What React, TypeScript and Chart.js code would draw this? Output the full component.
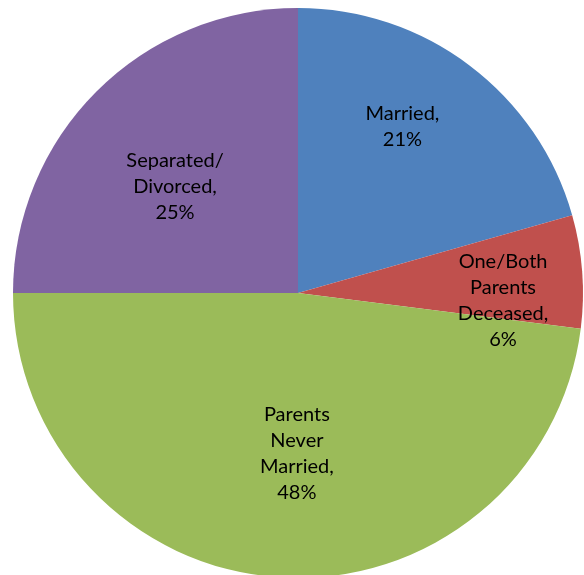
import React, { useEffect, useRef } from "react";
import { Chart, registerables } from "chart.js";

Chart.register(...registerables);

const categories: string[][] = [
  ["Married,"],
  ["One/Both", "Parents", "Deceased,"],
  ["Parents", "Never", "Married,"],
  ["Separated/", "Divorced,"],
];
const values: number[] = [20.6, 6.4, 48, 25];
const colors: string[] = ["#4F81BD", "#C0504D", "#9BBB59", "#8064A2"];

// label placement: fraction of radius, clockwise angle offset in degrees
const labelRadius = [0.69, 0.72, 0.565, 0.57];
const labelAngleOffset = [-5.0, 6.4, -3.2, -4.2];

const labelPlugin = {
  id: "pieLabels",
  afterDatasetsDraw(chart: any) {
    const ctx = chart.ctx;
    const meta = chart.getDatasetMeta(0);
    const total = values.reduce((a, b) => a + b, 0);
    ctx.save();
    ctx.font = "20px Lato";
    ctx.fillStyle = "#000000";
    ctx.textAlign = "center";
    ctx.textBaseline = "middle";
    const lineH = 26;
    meta.data.forEach((arc: any, i: number) => {
      const { x, y, startAngle, endAngle, outerRadius } = arc.getProps(
        ["x", "y", "startAngle", "endAngle", "outerRadius"],
        true
      );
      const mid = (startAngle + endAngle) / 2 + (labelAngleOffset[i] * Math.PI) / 180;
      const r = outerRadius * labelRadius[i];
      const cx = x + r * Math.cos(mid);
      const cy = y + r * Math.sin(mid);
      const pct = Math.round((values[i] / total) * 100) + "%";
      const lines = [...categories[i], pct];
      const top = cy - ((lines.length - 1) * lineH) / 2;
      lines.forEach((t, k) => ctx.fillText(t, cx, top + k * lineH));
    });
    ctx.restore();
  },
};

export default function App() {
  const ref = useRef<HTMLCanvasElement | null>(null);
  useEffect(() => {
    if (!ref.current) return;
    const chart = new Chart(ref.current, {
      type: "pie",
      data: {
        labels: categories.map((c) => c.join(" ")),
        datasets: [
          {
            data: values,
            backgroundColor: colors,
            borderWidth: 0,
            hoverOffset: 0,
          },
        ],
      },
      options: {
        responsive: false,
        animation: false,
        layout: { padding: { left: 13, top: 8, right: 17, bottom: 22 } },
        plugins: {
          legend: { display: false },
          tooltip: { enabled: false },
        },
      },
      plugins: [labelPlugin],
    });
    return () => chart.destroy();
  }, []);
  return (
    <div style={{ position: "fixed", left: 0, top: 0, width: 600, height: 600, background: "#fff" }}>
      <canvas ref={ref} width={600} height={600} style={{ width: 600, height: 600 }} />
    </div>
  );
}
